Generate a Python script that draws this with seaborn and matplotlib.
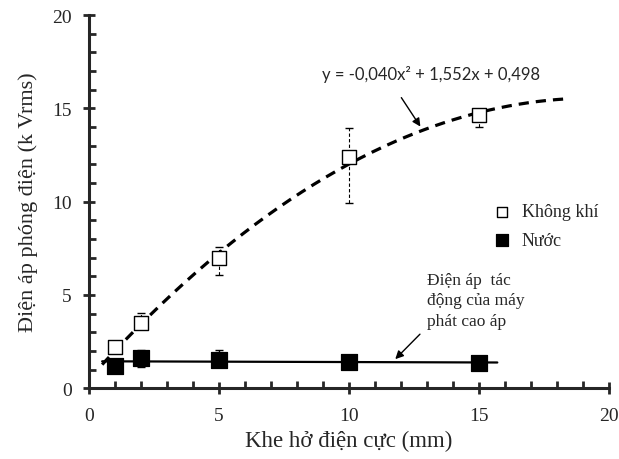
import numpy as np
import matplotlib
matplotlib.use('Agg')
import matplotlib.pyplot as plt
import seaborn as sns
from matplotlib.ticker import MultipleLocator

# =================== DATA ===================

gap_mm = [1, 2, 5, 10, 15]

air_kv = [2.2, 3.5, 6.97, 12.4, 14.64]
air_err_low = [0.1, 0.35, 0.9, 2.45, 0.65]
air_err_high = [0.1, 0.55, 0.6, 1.55, 0.15]

water_kv = [1.2, 1.62, 1.5, 1.42, 1.33]
water_err_low = [0.05, 0.5, 0.38, 0.15, 0.05]
water_err_high = [0.05, 0.42, 0.53, 0.15, 0.05]

# trendline coefficients as printed on the chart (a, b, c)
air_fit = [-0.040, 1.552, 0.498]
air_fit_range = [0.5, 18.5]
water_fit_range = [0.5, 15.7]

eq_label = 'y = -0,040x² + 1,552x + 0,498'
note_label = 'Điện áp  tác\nđộng của máy\nphát cao áp'

# =================== PLOT ===================

sns.set_style('ticks')
plt.rcParams['font.family'] = ['Liberation Serif', 'DejaVu Serif']

fig, ax = plt.subplots(figsize=(6.19, 4.6), dpi=100)
fig.subplots_adjust(left=0.144, right=0.984, top=0.965, bottom=0.154)

# trend curves
xa = np.linspace(air_fit_range[0], air_fit_range[1], 200)
sns.lineplot(x=xa, y=np.polyval(air_fit, xa), ax=ax, color='black',
             linestyle=(0, (3.2, 2.2)), linewidth=2.3, zorder=2)
water_fit = np.polyfit(gap_mm, water_kv, 1)
xw = np.array(water_fit_range)
sns.lineplot(x=xw, y=np.polyval(water_fit, xw), ax=ax, color='black',
             linewidth=1.6, zorder=2)

# error bars
eb = ax.errorbar(gap_mm, air_kv, yerr=[air_err_low, air_err_high], fmt='none',
                 ecolor='black', elinewidth=0.8, capsize=3, zorder=3)
eb[2][0].set_linestyle((0, (3, 2)))
ax.errorbar(gap_mm, water_kv, yerr=[water_err_low, water_err_high], fmt='none',
            ecolor='black', elinewidth=1.0, capsize=3, zorder=3)

# markers
sns.scatterplot(x=gap_mm, y=air_kv, ax=ax, marker='s', s=95, facecolor='white',
                edgecolor='black', linewidth=1.0, zorder=4, label='Không khí')
sns.scatterplot(x=gap_mm, y=water_kv, ax=ax, marker='s', s=120, color='black',
                edgecolor='black', zorder=4, label='Nước')

ax.legend(loc='upper left', bbox_to_anchor=(0.745, 0.515), frameon=False,
          fontsize=13, handletextpad=0.1, labelspacing=0.65, borderaxespad=0,
          markerscale=0.75)

# annotations
ax.annotate('', xy=(12.8, 13.9), xytext=(11.95, 15.7),
            arrowprops=dict(arrowstyle='-|>', color='black', lw=1.0,
                            mutation_scale=12))
ax.text(8.95, 16.85, eq_label, fontsize=12, va='center', ha='left',
        family=['Lato', 'DejaVu Sans'])
ax.annotate('', xy=(11.7, 1.45), xytext=(12.8, 3.0),
            arrowprops=dict(arrowstyle='-|>', color='black', lw=1.0,
                            mutation_scale=12))
ax.text(13.0, 6.25, note_label, fontsize=12.5, va='top', ha='left',
        linespacing=1.4)

# axes
ax.set_xlim(0, 20)
ax.set_ylim(0, 20)
ax.xaxis.set_major_locator(MultipleLocator(5))
ax.yaxis.set_major_locator(MultipleLocator(5))
ax.xaxis.set_minor_locator(MultipleLocator(1))
ax.yaxis.set_minor_locator(MultipleLocator(1))
ax.tick_params(which='major', direction='inout', length=9, width=2, labelsize=14)
ax.tick_params(axis='x', which='major', pad=9)
ax.tick_params(axis='y', which='major', pad=8)
ax.tick_params(which='minor', direction='in', length=5, width=2)
sns.despine(ax=ax)
for side in ['left', 'bottom']:
    ax.spines[side].set_linewidth(2.2)

ax.set_xlabel('Khe hở điện cực (mm)', fontsize=16.5, labelpad=4)
ax.set_ylabel('Điện áp phóng điện (k Vrms)', fontsize=16, labelpad=10)

fig.savefig('out.png', dpi=100)
plt.close(fig)
